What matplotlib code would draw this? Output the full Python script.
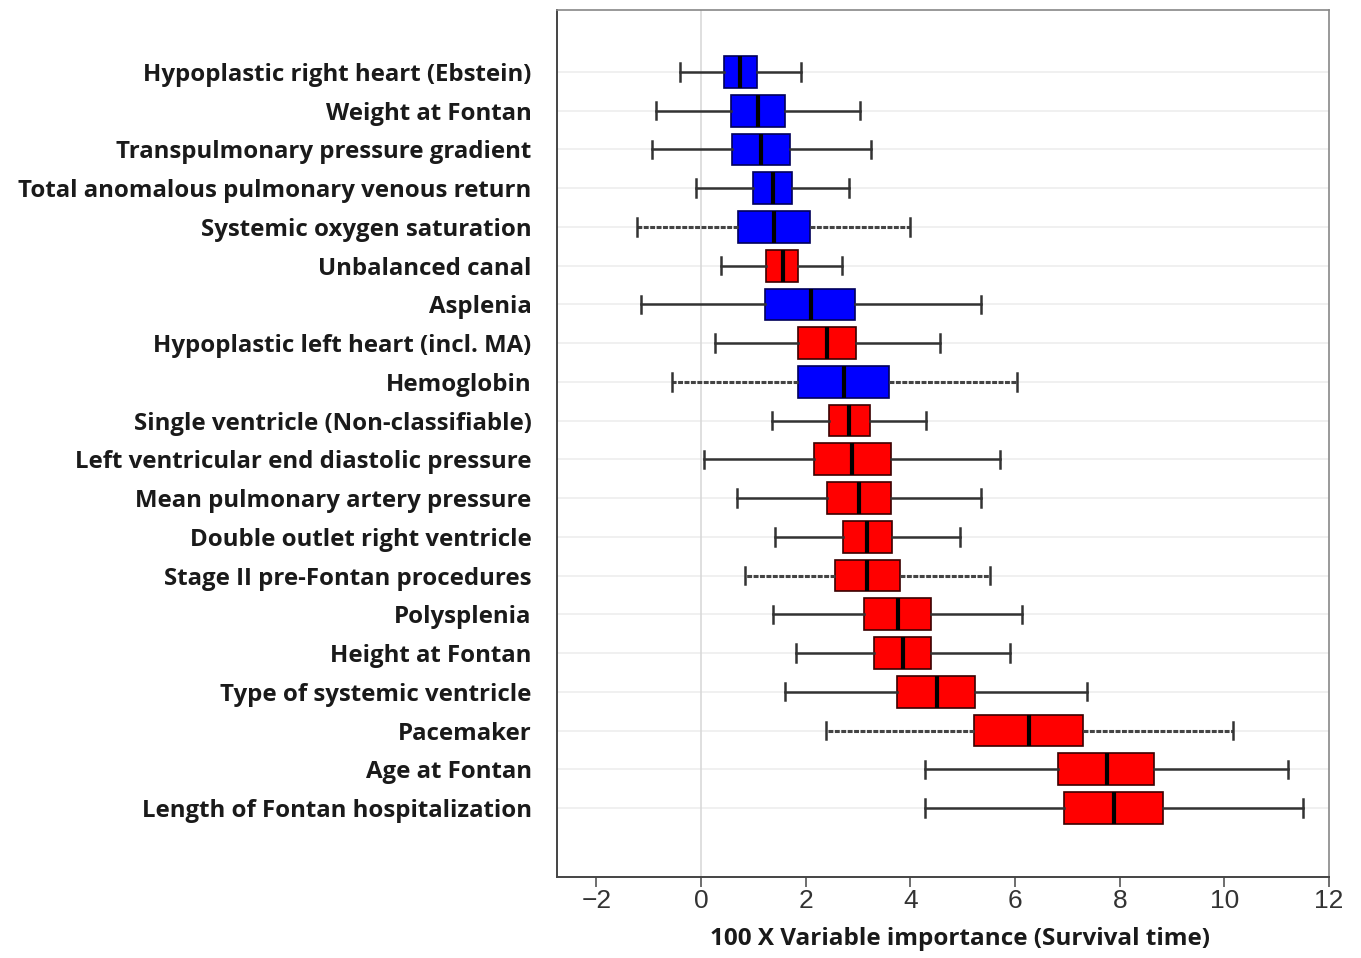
import numpy as np
import matplotlib
matplotlib.use("Agg")
import matplotlib.pyplot as plt

# variables, top to bottom
variables = [
    "Hypoplastic right heart (Ebstein)",
    "Weight at Fontan",
    "Transpulmonary pressure gradient",
    "Total anomalous pulmonary venous return",
    "Systemic oxygen saturation",
    "Unbalanced canal",
    "Asplenia",
    "Hypoplastic left heart (incl. MA)",
    "Hemoglobin",
    "Single ventricle (Non-classifiable)",
    "Left ventricular end diastolic pressure",
    "Mean pulmonary artery pressure",
    "Double outlet right ventricle",
    "Stage II pre-Fontan procedures",
    "Polysplenia",
    "Height at Fontan",
    "Type of systemic ventricle",
    "Pacemaker",
    "Age at Fontan",
    "Length of Fontan hospitalization",
]

# box stats (100 x variable importance)
whis_lo = [-0.41, -0.87, -0.94, -0.10, -1.22, 0.39, -1.15, 0.27, -0.56, 1.35,
           0.06, 0.68, 1.42, 0.83, 1.38, 1.82, 1.60, 2.38, 4.27, 4.27]
q1 = [0.43, 0.57, 0.60, 0.99, 0.70, 1.24, 1.23, 1.85, 1.85, 2.44,
      2.16, 2.40, 2.72, 2.56, 3.12, 3.30, 3.74, 5.22, 6.82, 6.94]
median = [0.75, 1.09, 1.15, 1.37, 1.39, 1.56, 2.10, 2.41, 2.73, 2.83,
          2.89, 3.02, 3.18, 3.18, 3.77, 3.85, 4.50, 6.27, 7.75, 7.89]
q3 = [1.06, 1.61, 1.70, 1.74, 2.08, 1.86, 2.94, 2.97, 3.59, 3.23,
      3.63, 3.63, 3.65, 3.81, 4.39, 4.39, 5.24, 7.30, 8.66, 8.83]
whis_hi = [1.91, 3.03, 3.25, 2.82, 3.99, 2.69, 5.34, 4.56, 6.03, 4.30,
           5.71, 5.34, 4.95, 5.53, 6.13, 5.90, 7.38, 10.17, 11.22, 11.50]
# blue = protective, red = risk
direction = ["neg", "neg", "neg", "neg", "neg", "pos", "neg", "pos", "neg", "pos",
             "pos", "pos", "pos", "pos", "pos", "pos", "pos", "pos", "pos", "pos"]
# rows whose whiskers look dashed in the original
dashed_rows = [4, 8, 13, 17]

colors = {"neg": "#0000ff", "pos": "#ff0000"}

plt.rcParams["font.family"] = ["Open Sans", "DejaVu Sans"]

fig = plt.figure(figsize=(13.61, 9.58), dpi=100)
ax = fig.add_axes([0.409, 0.0846, 0.5675, 0.905])

pos = np.arange(1, len(variables) + 1)

# faint row lines and the zero line
for p in pos:
    ax.axhline(p, color="#eeeeee", lw=1.2, zorder=0)
ax.axvline(0, color="#d9d9d9", lw=1.2, zorder=0)

stats = []
for i in range(len(variables)):
    stats.append({"whislo": whis_lo[i], "q1": q1[i], "med": median[i],
                  "q3": q3[i], "whishi": whis_hi[i], "fliers": []})

bp = ax.bxp(stats, positions=pos, widths=0.82, capwidths=0.45, vert=False,
            patch_artist=True, showfliers=False,
            medianprops=dict(color="black", lw=3),
            whiskerprops=dict(color="#333333", lw=1.8),
            capprops=dict(color="#333333", lw=1.8))

for box, d in zip(bp["boxes"], direction):
    box.set_facecolor(colors[d])
    box.set_edgecolor("#3a0000" if d == "pos" else "#00005a")
    box.set_linewidth(1.2)

for r in dashed_rows:
    for w in bp["whiskers"][2 * r:2 * r + 2]:
        w.set_linestyle((0, (1.6, 0.5)))
        w.set_linewidth(2.2)
        w.set_color("#444444")

ax.set_xlim(-2.76, 12.0)
ax.set_ylim(21.78, -0.6)
ax.set_xticks(np.arange(-2, 13, 2))
ax.set_xticklabels([str(v).replace("-", "\u2212") for v in range(-2, 13, 2)],
                   fontsize=19, color="#333333", family="Liberation Sans")
ax.set_yticks(pos)
ax.set_yticklabels(variables, fontsize=17.3, fontweight="bold", color="#1a1a1a")
ax.tick_params(axis="y", length=0, pad=18)
ax.tick_params(axis="x", length=7, width=1.2, color="#555555", pad=2)

for s in ["top", "right"]:
    ax.spines[s].set_color("#888888")
    ax.spines[s].set_linewidth(1.2)
for s in ["left", "bottom"]:
    ax.spines[s].set_color("#444444")
    ax.spines[s].set_linewidth(1.4)

ax.set_xlabel("100 X Variable importance (Survival time)", fontsize=17.5,
              fontweight="bold", color="#1a1a1a")
ax.xaxis.set_label_coords(0.522, -0.058)

fig.savefig("out.png", dpi=100)
